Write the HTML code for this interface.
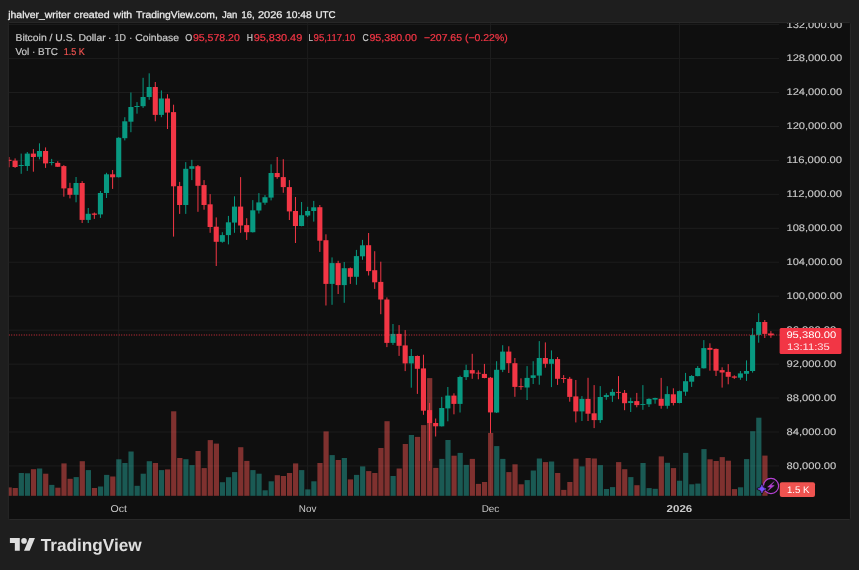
<!DOCTYPE html>
<html lang="en"><head><meta charset="utf-8"><title>BTCUSD chart</title>
<style>html,body{margin:0;padding:0;background:#1e1e1e;overflow:hidden}svg{display:block;will-change:transform}text{font-family:"Liberation Sans",Arial,sans-serif;text-rendering:geometricPrecision}</style>
</head><body>
<svg width="859" height="570" viewBox="0 0 859 570">
<rect width="859" height="570" fill="#1e1e1e"/>
<rect x="8.35" y="22.6" width="842.1" height="496.9" rx="1" fill="#0f0f0f" stroke="#292929" stroke-width="1"/>
<defs><clipPath id="cp"><rect x="8.8" y="23.1" width="841.1" height="495.9"/></clipPath></defs>
<g clip-path="url(#cp)">
<g stroke="#1d1d1d" stroke-width="1" shape-rendering="auto">
<line x1="8.8" y1="465.95" x2="779.0" y2="465.95"/>
<line x1="8.8" y1="432.00" x2="779.0" y2="432.00"/>
<line x1="8.8" y1="398.05" x2="779.0" y2="398.05"/>
<line x1="8.8" y1="364.10" x2="779.0" y2="364.10"/>
<line x1="8.8" y1="330.15" x2="779.0" y2="330.15"/>
<line x1="8.8" y1="296.20" x2="779.0" y2="296.20"/>
<line x1="8.8" y1="262.25" x2="779.0" y2="262.25"/>
<line x1="8.8" y1="228.30" x2="779.0" y2="228.30"/>
<line x1="8.8" y1="194.35" x2="779.0" y2="194.35"/>
<line x1="8.8" y1="160.40" x2="779.0" y2="160.40"/>
<line x1="8.8" y1="126.45" x2="779.0" y2="126.45"/>
<line x1="8.8" y1="92.50" x2="779.0" y2="92.50"/>
<line x1="8.8" y1="58.55" x2="779.0" y2="58.55"/>
<line x1="8.8" y1="24.60" x2="779.0" y2="24.60"/>
<line x1="118.71" y1="23.1" x2="118.71" y2="495.8"/>
<line x1="307.65" y1="23.1" x2="307.65" y2="495.8"/>
<line x1="490.50" y1="23.1" x2="490.50" y2="495.8"/>
<line x1="679.45" y1="23.1" x2="679.45" y2="495.8"/>
</g>
<g>
<rect x="6.55" y="487.4" width="5.2" height="8.4" fill="rgba(239,83,80,0.5)"/>
<rect x="12.64" y="488.0" width="5.2" height="7.8" fill="rgba(239,83,80,0.5)"/>
<rect x="18.74" y="473.0" width="5.2" height="22.8" fill="rgba(38,166,154,0.5)"/>
<rect x="24.83" y="473.3" width="5.2" height="22.5" fill="rgba(38,166,154,0.5)"/>
<rect x="30.93" y="469.2" width="5.2" height="26.6" fill="rgba(239,83,80,0.5)"/>
<rect x="37.02" y="468.5" width="5.2" height="27.3" fill="rgba(38,166,154,0.5)"/>
<rect x="43.12" y="473.7" width="5.2" height="22.1" fill="rgba(239,83,80,0.5)"/>
<rect x="49.21" y="484.9" width="5.2" height="10.9" fill="rgba(38,166,154,0.5)"/>
<rect x="55.31" y="487.7" width="5.2" height="8.1" fill="rgba(239,83,80,0.5)"/>
<rect x="61.40" y="463.4" width="5.2" height="32.4" fill="rgba(239,83,80,0.5)"/>
<rect x="67.50" y="478.8" width="5.2" height="17.0" fill="rgba(239,83,80,0.5)"/>
<rect x="73.60" y="477.1" width="5.2" height="18.7" fill="rgba(38,166,154,0.5)"/>
<rect x="79.69" y="461.2" width="5.2" height="34.6" fill="rgba(239,83,80,0.5)"/>
<rect x="85.79" y="470.1" width="5.2" height="25.7" fill="rgba(38,166,154,0.5)"/>
<rect x="91.88" y="488.0" width="5.2" height="7.8" fill="rgba(239,83,80,0.5)"/>
<rect x="97.98" y="486.5" width="5.2" height="9.3" fill="rgba(38,166,154,0.5)"/>
<rect x="104.07" y="474.9" width="5.2" height="20.9" fill="rgba(38,166,154,0.5)"/>
<rect x="110.17" y="476.5" width="5.2" height="19.3" fill="rgba(239,83,80,0.5)"/>
<rect x="116.26" y="459.3" width="5.2" height="36.5" fill="rgba(38,166,154,0.5)"/>
<rect x="122.36" y="463.0" width="5.2" height="32.8" fill="rgba(38,166,154,0.5)"/>
<rect x="128.45" y="451.5" width="5.2" height="44.3" fill="rgba(38,166,154,0.5)"/>
<rect x="134.55" y="485.8" width="5.2" height="10.0" fill="rgba(38,166,154,0.5)"/>
<rect x="140.64" y="473.7" width="5.2" height="22.1" fill="rgba(38,166,154,0.5)"/>
<rect x="146.74" y="461.2" width="5.2" height="34.6" fill="rgba(38,166,154,0.5)"/>
<rect x="152.83" y="463.0" width="5.2" height="32.8" fill="rgba(239,83,80,0.5)"/>
<rect x="158.93" y="470.1" width="5.2" height="25.7" fill="rgba(38,166,154,0.5)"/>
<rect x="165.02" y="469.4" width="5.2" height="26.4" fill="rgba(239,83,80,0.5)"/>
<rect x="171.12" y="411.3" width="5.2" height="84.5" fill="rgba(239,83,80,0.5)"/>
<rect x="177.21" y="458.0" width="5.2" height="37.8" fill="rgba(239,83,80,0.5)"/>
<rect x="183.31" y="459.2" width="5.2" height="36.6" fill="rgba(38,166,154,0.5)"/>
<rect x="189.40" y="465.1" width="5.2" height="30.7" fill="rgba(38,166,154,0.5)"/>
<rect x="195.50" y="451.0" width="5.2" height="44.8" fill="rgba(239,83,80,0.5)"/>
<rect x="201.59" y="468.1" width="5.2" height="27.7" fill="rgba(239,83,80,0.5)"/>
<rect x="207.69" y="440.1" width="5.2" height="55.7" fill="rgba(239,83,80,0.5)"/>
<rect x="213.78" y="443.6" width="5.2" height="52.2" fill="rgba(239,83,80,0.5)"/>
<rect x="219.88" y="482.2" width="5.2" height="13.6" fill="rgba(38,166,154,0.5)"/>
<rect x="225.97" y="477.2" width="5.2" height="18.6" fill="rgba(38,166,154,0.5)"/>
<rect x="232.06" y="472.1" width="5.2" height="23.7" fill="rgba(38,166,154,0.5)"/>
<rect x="238.16" y="447.2" width="5.2" height="48.6" fill="rgba(239,83,80,0.5)"/>
<rect x="244.25" y="460.9" width="5.2" height="34.9" fill="rgba(239,83,80,0.5)"/>
<rect x="250.35" y="470.1" width="5.2" height="25.7" fill="rgba(38,166,154,0.5)"/>
<rect x="256.44" y="473.7" width="5.2" height="22.1" fill="rgba(38,166,154,0.5)"/>
<rect x="262.54" y="490.3" width="5.2" height="5.5" fill="rgba(38,166,154,0.5)"/>
<rect x="268.63" y="481.3" width="5.2" height="14.5" fill="rgba(38,166,154,0.5)"/>
<rect x="274.73" y="475.2" width="5.2" height="20.6" fill="rgba(239,83,80,0.5)"/>
<rect x="280.82" y="476.0" width="5.2" height="19.8" fill="rgba(239,83,80,0.5)"/>
<rect x="286.92" y="473.0" width="5.2" height="22.8" fill="rgba(239,83,80,0.5)"/>
<rect x="293.01" y="463.4" width="5.2" height="32.4" fill="rgba(239,83,80,0.5)"/>
<rect x="299.11" y="470.1" width="5.2" height="25.7" fill="rgba(38,166,154,0.5)"/>
<rect x="305.20" y="489.4" width="5.2" height="6.4" fill="rgba(38,166,154,0.5)"/>
<rect x="311.30" y="481.3" width="5.2" height="14.5" fill="rgba(38,166,154,0.5)"/>
<rect x="317.39" y="463.0" width="5.2" height="32.8" fill="rgba(239,83,80,0.5)"/>
<rect x="323.49" y="431.4" width="5.2" height="64.4" fill="rgba(239,83,80,0.5)"/>
<rect x="329.58" y="455.1" width="5.2" height="40.7" fill="rgba(38,166,154,0.5)"/>
<rect x="335.68" y="460.0" width="5.2" height="35.8" fill="rgba(239,83,80,0.5)"/>
<rect x="341.77" y="458.0" width="5.2" height="37.8" fill="rgba(38,166,154,0.5)"/>
<rect x="347.87" y="479.4" width="5.2" height="16.4" fill="rgba(239,83,80,0.5)"/>
<rect x="353.96" y="474.9" width="5.2" height="20.9" fill="rgba(38,166,154,0.5)"/>
<rect x="360.06" y="466.4" width="5.2" height="29.4" fill="rgba(38,166,154,0.5)"/>
<rect x="366.15" y="471.1" width="5.2" height="24.7" fill="rgba(239,83,80,0.5)"/>
<rect x="372.25" y="473.0" width="5.2" height="22.8" fill="rgba(239,83,80,0.5)"/>
<rect x="378.34" y="448.0" width="5.2" height="47.8" fill="rgba(239,83,80,0.5)"/>
<rect x="384.44" y="421.2" width="5.2" height="74.6" fill="rgba(239,83,80,0.5)"/>
<rect x="390.53" y="476.0" width="5.2" height="19.8" fill="rgba(38,166,154,0.5)"/>
<rect x="396.63" y="468.5" width="5.2" height="27.3" fill="rgba(239,83,80,0.5)"/>
<rect x="402.72" y="444.0" width="5.2" height="51.8" fill="rgba(239,83,80,0.5)"/>
<rect x="408.82" y="435.0" width="5.2" height="60.8" fill="rgba(38,166,154,0.5)"/>
<rect x="414.91" y="436.9" width="5.2" height="58.9" fill="rgba(239,83,80,0.5)"/>
<rect x="421.01" y="425.1" width="5.2" height="70.7" fill="rgba(239,83,80,0.5)"/>
<rect x="427.10" y="378.1" width="5.2" height="117.7" fill="rgba(239,83,80,0.5)"/>
<rect x="433.20" y="467.9" width="5.2" height="27.9" fill="rgba(239,83,80,0.5)"/>
<rect x="439.29" y="458.9" width="5.2" height="36.9" fill="rgba(38,166,154,0.5)"/>
<rect x="445.39" y="440.0" width="5.2" height="55.8" fill="rgba(38,166,154,0.5)"/>
<rect x="451.48" y="455.7" width="5.2" height="40.1" fill="rgba(239,83,80,0.5)"/>
<rect x="457.58" y="452.9" width="5.2" height="42.9" fill="rgba(38,166,154,0.5)"/>
<rect x="463.67" y="464.9" width="5.2" height="30.9" fill="rgba(38,166,154,0.5)"/>
<rect x="469.77" y="458.9" width="5.2" height="36.9" fill="rgba(239,83,80,0.5)"/>
<rect x="475.86" y="483.9" width="5.2" height="11.9" fill="rgba(239,83,80,0.5)"/>
<rect x="481.96" y="482.0" width="5.2" height="13.8" fill="rgba(239,83,80,0.5)"/>
<rect x="488.05" y="432.9" width="5.2" height="62.9" fill="rgba(239,83,80,0.5)"/>
<rect x="494.15" y="446.1" width="5.2" height="49.7" fill="rgba(38,166,154,0.5)"/>
<rect x="500.24" y="458.9" width="5.2" height="36.9" fill="rgba(38,166,154,0.5)"/>
<rect x="506.34" y="472.1" width="5.2" height="23.7" fill="rgba(239,83,80,0.5)"/>
<rect x="512.43" y="464.3" width="5.2" height="31.5" fill="rgba(239,83,80,0.5)"/>
<rect x="518.53" y="484.3" width="5.2" height="11.5" fill="rgba(239,83,80,0.5)"/>
<rect x="524.62" y="480.1" width="5.2" height="15.7" fill="rgba(38,166,154,0.5)"/>
<rect x="530.72" y="470.5" width="5.2" height="25.3" fill="rgba(38,166,154,0.5)"/>
<rect x="536.81" y="458.5" width="5.2" height="37.3" fill="rgba(38,166,154,0.5)"/>
<rect x="542.91" y="462.1" width="5.2" height="33.7" fill="rgba(239,83,80,0.5)"/>
<rect x="549.00" y="461.5" width="5.2" height="34.3" fill="rgba(38,166,154,0.5)"/>
<rect x="555.10" y="473.0" width="5.2" height="22.8" fill="rgba(239,83,80,0.5)"/>
<rect x="561.19" y="489.9" width="5.2" height="5.9" fill="rgba(239,83,80,0.5)"/>
<rect x="567.29" y="482.0" width="5.2" height="13.8" fill="rgba(239,83,80,0.5)"/>
<rect x="573.38" y="458.7" width="5.2" height="37.1" fill="rgba(239,83,80,0.5)"/>
<rect x="579.48" y="466.4" width="5.2" height="29.4" fill="rgba(38,166,154,0.5)"/>
<rect x="585.57" y="458.0" width="5.2" height="37.8" fill="rgba(239,83,80,0.5)"/>
<rect x="591.67" y="458.5" width="5.2" height="37.3" fill="rgba(239,83,80,0.5)"/>
<rect x="597.76" y="465.1" width="5.2" height="30.7" fill="rgba(38,166,154,0.5)"/>
<rect x="603.86" y="489.0" width="5.2" height="6.8" fill="rgba(38,166,154,0.5)"/>
<rect x="609.95" y="487.1" width="5.2" height="8.7" fill="rgba(38,166,154,0.5)"/>
<rect x="616.05" y="462.1" width="5.2" height="33.7" fill="rgba(239,83,80,0.5)"/>
<rect x="622.14" y="469.2" width="5.2" height="26.6" fill="rgba(239,83,80,0.5)"/>
<rect x="628.24" y="477.1" width="5.2" height="18.7" fill="rgba(38,166,154,0.5)"/>
<rect x="634.33" y="485.2" width="5.2" height="10.6" fill="rgba(239,83,80,0.5)"/>
<rect x="640.43" y="463.0" width="5.2" height="32.8" fill="rgba(38,166,154,0.5)"/>
<rect x="646.52" y="488.1" width="5.2" height="7.7" fill="rgba(38,166,154,0.5)"/>
<rect x="652.62" y="488.8" width="5.2" height="7.0" fill="rgba(38,166,154,0.5)"/>
<rect x="658.71" y="456.4" width="5.2" height="39.4" fill="rgba(239,83,80,0.5)"/>
<rect x="664.81" y="462.8" width="5.2" height="33.0" fill="rgba(38,166,154,0.5)"/>
<rect x="670.90" y="468.1" width="5.2" height="27.7" fill="rgba(239,83,80,0.5)"/>
<rect x="677.00" y="480.7" width="5.2" height="15.1" fill="rgba(38,166,154,0.5)"/>
<rect x="683.09" y="452.9" width="5.2" height="42.9" fill="rgba(38,166,154,0.5)"/>
<rect x="689.19" y="484.3" width="5.2" height="11.5" fill="rgba(38,166,154,0.5)"/>
<rect x="695.28" y="483.6" width="5.2" height="12.2" fill="rgba(38,166,154,0.5)"/>
<rect x="701.38" y="449.1" width="5.2" height="46.7" fill="rgba(38,166,154,0.5)"/>
<rect x="707.47" y="459.3" width="5.2" height="36.5" fill="rgba(239,83,80,0.5)"/>
<rect x="713.57" y="461.0" width="5.2" height="34.8" fill="rgba(239,83,80,0.5)"/>
<rect x="719.66" y="457.1" width="5.2" height="38.7" fill="rgba(239,83,80,0.5)"/>
<rect x="725.76" y="460.7" width="5.2" height="35.1" fill="rgba(239,83,80,0.5)"/>
<rect x="731.85" y="489.1" width="5.2" height="6.7" fill="rgba(239,83,80,0.5)"/>
<rect x="737.95" y="487.3" width="5.2" height="8.5" fill="rgba(38,166,154,0.5)"/>
<rect x="744.04" y="459.1" width="5.2" height="36.7" fill="rgba(38,166,154,0.5)"/>
<rect x="750.14" y="431.2" width="5.2" height="64.6" fill="rgba(38,166,154,0.5)"/>
<rect x="756.23" y="417.7" width="5.2" height="78.1" fill="rgba(38,166,154,0.5)"/>
<rect x="762.33" y="455.6" width="5.2" height="40.2" fill="rgba(239,83,80,0.5)"/>
</g>
<g>
<rect x="8.50" y="157.0" width="1" height="10.3" fill="#f23645"/>
<rect x="6.45" y="159.8" width="5.1" height="1.1" fill="#f23645"/>
<rect x="14.59" y="158.4" width="1" height="9.5" fill="#f23645"/>
<rect x="12.54" y="160.6" width="5.1" height="6.4" fill="#f23645"/>
<rect x="20.69" y="153.6" width="1" height="20.2" fill="#089981"/>
<rect x="18.64" y="165.0" width="5.1" height="1.0" fill="#089981"/>
<rect x="26.79" y="152.0" width="1" height="18.9" fill="#089981"/>
<rect x="24.73" y="153.6" width="5.1" height="12.4" fill="#089981"/>
<rect x="32.88" y="149.1" width="1" height="22.6" fill="#f23645"/>
<rect x="30.83" y="153.6" width="5.1" height="3.4" fill="#f23645"/>
<rect x="38.97" y="143.3" width="1" height="16.0" fill="#089981"/>
<rect x="36.92" y="151.0" width="5.1" height="5.8" fill="#089981"/>
<rect x="45.07" y="147.4" width="1" height="20.5" fill="#f23645"/>
<rect x="43.02" y="151.0" width="5.1" height="12.4" fill="#f23645"/>
<rect x="51.16" y="158.9" width="1" height="6.4" fill="#089981"/>
<rect x="49.12" y="162.1" width="5.1" height="0.9" fill="#089981"/>
<rect x="57.26" y="161.2" width="1" height="5.8" fill="#f23645"/>
<rect x="55.21" y="162.9" width="5.1" height="3.9" fill="#f23645"/>
<rect x="63.35" y="165.1" width="1" height="31.6" fill="#f23645"/>
<rect x="61.30" y="166.1" width="5.1" height="22.3" fill="#f23645"/>
<rect x="69.45" y="182.8" width="1" height="15.6" fill="#f23645"/>
<rect x="67.40" y="188.2" width="5.1" height="6.6" fill="#f23645"/>
<rect x="75.55" y="177.0" width="1" height="25.3" fill="#089981"/>
<rect x="73.50" y="183.0" width="5.1" height="11.8" fill="#089981"/>
<rect x="81.64" y="181.1" width="1" height="41.9" fill="#f23645"/>
<rect x="79.59" y="183.0" width="5.1" height="36.9" fill="#f23645"/>
<rect x="87.73" y="208.0" width="1" height="15.0" fill="#089981"/>
<rect x="85.69" y="213.8" width="5.1" height="6.1" fill="#089981"/>
<rect x="93.83" y="212.5" width="1" height="6.4" fill="#f23645"/>
<rect x="91.78" y="213.5" width="5.1" height="1.3" fill="#f23645"/>
<rect x="99.92" y="191.0" width="1" height="26.9" fill="#089981"/>
<rect x="97.88" y="193.0" width="5.1" height="21.4" fill="#089981"/>
<rect x="106.02" y="172.8" width="1" height="25.2" fill="#089981"/>
<rect x="103.97" y="174.3" width="5.1" height="18.7" fill="#089981"/>
<rect x="112.11" y="170.0" width="1" height="18.9" fill="#f23645"/>
<rect x="110.06" y="174.3" width="5.1" height="3.0" fill="#f23645"/>
<rect x="118.21" y="137.1" width="1" height="40.4" fill="#089981"/>
<rect x="116.16" y="137.8" width="5.1" height="39.4" fill="#089981"/>
<rect x="124.30" y="117.2" width="1" height="23.2" fill="#089981"/>
<rect x="122.25" y="121.3" width="5.1" height="16.9" fill="#089981"/>
<rect x="130.40" y="92.5" width="1" height="39.7" fill="#089981"/>
<rect x="128.35" y="107.0" width="5.1" height="14.7" fill="#089981"/>
<rect x="136.50" y="102.1" width="1" height="11.6" fill="#089981"/>
<rect x="134.44" y="106.0" width="5.1" height="1.0" fill="#089981"/>
<rect x="142.59" y="77.8" width="1" height="30.1" fill="#089981"/>
<rect x="140.54" y="97.0" width="5.1" height="9.2" fill="#089981"/>
<rect x="148.69" y="73.3" width="1" height="26.5" fill="#089981"/>
<rect x="146.63" y="87.0" width="5.1" height="10.0" fill="#089981"/>
<rect x="154.78" y="82.0" width="1" height="39.3" fill="#f23645"/>
<rect x="152.73" y="87.0" width="5.1" height="27.9" fill="#f23645"/>
<rect x="160.88" y="90.4" width="1" height="26.8" fill="#089981"/>
<rect x="158.82" y="98.5" width="5.1" height="16.4" fill="#089981"/>
<rect x="166.97" y="94.2" width="1" height="34.8" fill="#f23645"/>
<rect x="164.92" y="98.5" width="5.1" height="14.1" fill="#f23645"/>
<rect x="173.06" y="104.7" width="1" height="131.9" fill="#f23645"/>
<rect x="171.01" y="112.1" width="5.1" height="74.2" fill="#f23645"/>
<rect x="179.16" y="181.9" width="1" height="32.0" fill="#f23645"/>
<rect x="177.11" y="186.1" width="5.1" height="18.9" fill="#f23645"/>
<rect x="185.25" y="162.1" width="1" height="51.8" fill="#089981"/>
<rect x="183.20" y="168.8" width="5.1" height="36.2" fill="#089981"/>
<rect x="191.35" y="159.8" width="1" height="20.3" fill="#089981"/>
<rect x="189.30" y="166.2" width="5.1" height="2.6" fill="#089981"/>
<rect x="197.44" y="165.0" width="1" height="46.8" fill="#f23645"/>
<rect x="195.39" y="166.2" width="5.1" height="19.6" fill="#f23645"/>
<rect x="203.54" y="180.1" width="1" height="29.6" fill="#f23645"/>
<rect x="201.49" y="185.1" width="5.1" height="19.9" fill="#f23645"/>
<rect x="209.63" y="194.1" width="1" height="38.7" fill="#f23645"/>
<rect x="207.58" y="204.3" width="5.1" height="22.7" fill="#f23645"/>
<rect x="215.73" y="217.4" width="1" height="48.6" fill="#f23645"/>
<rect x="213.68" y="226.7" width="5.1" height="15.1" fill="#f23645"/>
<rect x="221.82" y="232.2" width="1" height="10.5" fill="#089981"/>
<rect x="219.77" y="235.1" width="5.1" height="6.7" fill="#089981"/>
<rect x="227.92" y="215.9" width="1" height="28.5" fill="#089981"/>
<rect x="225.87" y="222.3" width="5.1" height="12.8" fill="#089981"/>
<rect x="234.01" y="196.3" width="1" height="36.5" fill="#089981"/>
<rect x="231.96" y="206.6" width="5.1" height="16.0" fill="#089981"/>
<rect x="240.11" y="177.1" width="1" height="55.7" fill="#f23645"/>
<rect x="238.06" y="206.6" width="5.1" height="18.9" fill="#f23645"/>
<rect x="246.20" y="218.2" width="1" height="21.7" fill="#f23645"/>
<rect x="244.15" y="225.1" width="5.1" height="7.1" fill="#f23645"/>
<rect x="252.30" y="200.1" width="1" height="32.4" fill="#089981"/>
<rect x="250.25" y="210.3" width="5.1" height="21.9" fill="#089981"/>
<rect x="258.39" y="193.1" width="1" height="20.4" fill="#089981"/>
<rect x="256.34" y="202.4" width="5.1" height="8.1" fill="#089981"/>
<rect x="264.49" y="195.1" width="1" height="9.7" fill="#089981"/>
<rect x="262.44" y="197.2" width="5.1" height="5.5" fill="#089981"/>
<rect x="270.58" y="164.3" width="1" height="36.1" fill="#089981"/>
<rect x="268.53" y="173.0" width="5.1" height="24.6" fill="#089981"/>
<rect x="276.68" y="157.0" width="1" height="21.8" fill="#f23645"/>
<rect x="274.63" y="173.0" width="5.1" height="4.1" fill="#f23645"/>
<rect x="282.77" y="159.2" width="1" height="33.6" fill="#f23645"/>
<rect x="280.72" y="177.1" width="5.1" height="10.0" fill="#f23645"/>
<rect x="288.87" y="180.1" width="1" height="39.9" fill="#f23645"/>
<rect x="286.82" y="187.1" width="5.1" height="24.3" fill="#f23645"/>
<rect x="294.96" y="197.0" width="1" height="46.0" fill="#f23645"/>
<rect x="292.91" y="211.0" width="5.1" height="15.0" fill="#f23645"/>
<rect x="301.06" y="202.0" width="1" height="24.3" fill="#089981"/>
<rect x="299.01" y="215.2" width="5.1" height="10.8" fill="#089981"/>
<rect x="307.15" y="206.8" width="1" height="10.2" fill="#089981"/>
<rect x="305.10" y="211.0" width="5.1" height="4.5" fill="#089981"/>
<rect x="313.25" y="200.9" width="1" height="20.7" fill="#089981"/>
<rect x="311.20" y="207.3" width="5.1" height="3.7" fill="#089981"/>
<rect x="319.34" y="205.0" width="1" height="46.9" fill="#f23645"/>
<rect x="317.29" y="207.2" width="5.1" height="33.5" fill="#f23645"/>
<rect x="325.44" y="234.3" width="1" height="71.2" fill="#f23645"/>
<rect x="323.39" y="240.2" width="5.1" height="43.7" fill="#f23645"/>
<rect x="331.53" y="257.4" width="1" height="47.4" fill="#089981"/>
<rect x="329.48" y="263.1" width="5.1" height="20.8" fill="#089981"/>
<rect x="337.63" y="260.8" width="1" height="33.2" fill="#f23645"/>
<rect x="335.58" y="263.1" width="5.1" height="22.0" fill="#f23645"/>
<rect x="343.72" y="262.0" width="1" height="40.8" fill="#089981"/>
<rect x="341.67" y="268.2" width="5.1" height="16.9" fill="#089981"/>
<rect x="349.82" y="267.5" width="1" height="16.4" fill="#f23645"/>
<rect x="347.77" y="268.2" width="5.1" height="8.6" fill="#f23645"/>
<rect x="355.91" y="249.9" width="1" height="34.9" fill="#089981"/>
<rect x="353.86" y="256.1" width="5.1" height="20.7" fill="#089981"/>
<rect x="362.01" y="239.9" width="1" height="19.9" fill="#089981"/>
<rect x="359.96" y="245.3" width="5.1" height="11.0" fill="#089981"/>
<rect x="368.10" y="233.0" width="1" height="42.5" fill="#f23645"/>
<rect x="366.05" y="245.2" width="5.1" height="25.9" fill="#f23645"/>
<rect x="374.20" y="251.2" width="1" height="37.7" fill="#f23645"/>
<rect x="372.15" y="270.2" width="5.1" height="12.1" fill="#f23645"/>
<rect x="380.29" y="261.7" width="1" height="52.5" fill="#f23645"/>
<rect x="378.24" y="281.9" width="5.1" height="17.6" fill="#f23645"/>
<rect x="386.39" y="297.4" width="1" height="49.7" fill="#f23645"/>
<rect x="384.34" y="299.5" width="5.1" height="43.4" fill="#f23645"/>
<rect x="392.48" y="324.0" width="1" height="20.9" fill="#089981"/>
<rect x="390.43" y="333.9" width="5.1" height="9.0" fill="#089981"/>
<rect x="398.58" y="325.1" width="1" height="30.8" fill="#f23645"/>
<rect x="396.53" y="333.9" width="5.1" height="11.9" fill="#f23645"/>
<rect x="404.68" y="330.1" width="1" height="41.0" fill="#f23645"/>
<rect x="402.62" y="345.4" width="5.1" height="18.0" fill="#f23645"/>
<rect x="410.77" y="349.0" width="1" height="38.7" fill="#089981"/>
<rect x="408.72" y="356.0" width="5.1" height="7.4" fill="#089981"/>
<rect x="416.87" y="355.5" width="1" height="38.4" fill="#f23645"/>
<rect x="414.81" y="356.0" width="5.1" height="12.8" fill="#f23645"/>
<rect x="422.96" y="354.7" width="1" height="60.1" fill="#f23645"/>
<rect x="420.91" y="368.4" width="5.1" height="42.3" fill="#f23645"/>
<rect x="429.06" y="403.0" width="1" height="57.9" fill="#f23645"/>
<rect x="427.00" y="410.1" width="5.1" height="12.9" fill="#f23645"/>
<rect x="435.15" y="418.5" width="1" height="18.0" fill="#f23645"/>
<rect x="433.10" y="423.0" width="5.1" height="3.3" fill="#f23645"/>
<rect x="441.25" y="396.9" width="1" height="29.6" fill="#089981"/>
<rect x="439.19" y="408.0" width="5.1" height="18.3" fill="#089981"/>
<rect x="447.34" y="387.0" width="1" height="34.3" fill="#089981"/>
<rect x="445.29" y="395.6" width="5.1" height="12.8" fill="#089981"/>
<rect x="453.44" y="393.3" width="1" height="21.0" fill="#f23645"/>
<rect x="451.38" y="395.6" width="5.1" height="8.3" fill="#f23645"/>
<rect x="459.53" y="375.7" width="1" height="36.8" fill="#089981"/>
<rect x="457.48" y="377.0" width="5.1" height="26.9" fill="#089981"/>
<rect x="465.62" y="364.7" width="1" height="15.3" fill="#089981"/>
<rect x="463.57" y="370.1" width="5.1" height="7.0" fill="#089981"/>
<rect x="471.72" y="353.8" width="1" height="25.0" fill="#f23645"/>
<rect x="469.67" y="370.1" width="5.1" height="3.4" fill="#f23645"/>
<rect x="477.81" y="370.3" width="1" height="9.0" fill="#f23645"/>
<rect x="475.76" y="372.7" width="5.1" height="0.9" fill="#f23645"/>
<rect x="483.91" y="363.9" width="1" height="14.4" fill="#f23645"/>
<rect x="481.86" y="373.9" width="5.1" height="4.1" fill="#f23645"/>
<rect x="490.00" y="377.0" width="1" height="56.3" fill="#f23645"/>
<rect x="487.95" y="377.7" width="5.1" height="34.7" fill="#f23645"/>
<rect x="496.10" y="361.2" width="1" height="51.8" fill="#089981"/>
<rect x="494.05" y="369.8" width="5.1" height="42.7" fill="#089981"/>
<rect x="502.19" y="345.2" width="1" height="26.9" fill="#089981"/>
<rect x="500.14" y="351.6" width="5.1" height="18.2" fill="#089981"/>
<rect x="508.29" y="346.3" width="1" height="26.7" fill="#f23645"/>
<rect x="506.24" y="351.6" width="5.1" height="11.6" fill="#f23645"/>
<rect x="514.38" y="358.0" width="1" height="38.8" fill="#f23645"/>
<rect x="512.34" y="363.2" width="5.1" height="23.7" fill="#f23645"/>
<rect x="520.48" y="378.3" width="1" height="11.5" fill="#f23645"/>
<rect x="518.43" y="386.2" width="5.1" height="0.9" fill="#f23645"/>
<rect x="526.57" y="366.1" width="1" height="33.9" fill="#089981"/>
<rect x="524.52" y="377.9" width="5.1" height="9.6" fill="#089981"/>
<rect x="532.67" y="361.2" width="1" height="22.8" fill="#089981"/>
<rect x="530.62" y="375.3" width="5.1" height="2.6" fill="#089981"/>
<rect x="538.76" y="341.1" width="1" height="43.6" fill="#089981"/>
<rect x="536.72" y="358.0" width="5.1" height="17.6" fill="#089981"/>
<rect x="544.86" y="342.4" width="1" height="25.3" fill="#f23645"/>
<rect x="542.81" y="358.0" width="5.1" height="5.8" fill="#f23645"/>
<rect x="550.95" y="350.4" width="1" height="36.7" fill="#089981"/>
<rect x="548.90" y="359.1" width="5.1" height="4.7" fill="#089981"/>
<rect x="557.05" y="357.0" width="1" height="27.9" fill="#f23645"/>
<rect x="555.00" y="359.1" width="5.1" height="19.7" fill="#f23645"/>
<rect x="563.14" y="375.1" width="1" height="7.8" fill="#f23645"/>
<rect x="561.10" y="378.0" width="5.1" height="0.9" fill="#f23645"/>
<rect x="569.24" y="376.9" width="1" height="24.8" fill="#f23645"/>
<rect x="567.19" y="378.8" width="5.1" height="18.1" fill="#f23645"/>
<rect x="575.33" y="380.0" width="1" height="42.4" fill="#f23645"/>
<rect x="573.28" y="396.4" width="5.1" height="15.0" fill="#f23645"/>
<rect x="581.43" y="396.1" width="1" height="24.9" fill="#089981"/>
<rect x="579.38" y="398.9" width="5.1" height="12.5" fill="#089981"/>
<rect x="587.52" y="377.8" width="1" height="43.2" fill="#f23645"/>
<rect x="585.48" y="398.9" width="5.1" height="14.8" fill="#f23645"/>
<rect x="593.62" y="385.1" width="1" height="43.0" fill="#f23645"/>
<rect x="591.57" y="413.3" width="5.1" height="6.8" fill="#f23645"/>
<rect x="599.72" y="386.1" width="1" height="36.8" fill="#089981"/>
<rect x="597.67" y="397.0" width="5.1" height="23.1" fill="#089981"/>
<rect x="605.81" y="393.2" width="1" height="6.6" fill="#089981"/>
<rect x="603.76" y="395.1" width="5.1" height="1.9" fill="#089981"/>
<rect x="611.90" y="388.9" width="1" height="13.0" fill="#089981"/>
<rect x="609.86" y="391.9" width="5.1" height="3.8" fill="#089981"/>
<rect x="618.00" y="376.1" width="1" height="23.1" fill="#f23645"/>
<rect x="615.95" y="391.9" width="5.1" height="0.9" fill="#f23645"/>
<rect x="624.10" y="390.0" width="1" height="20.2" fill="#f23645"/>
<rect x="622.05" y="392.9" width="5.1" height="10.3" fill="#f23645"/>
<rect x="630.19" y="397.7" width="1" height="14.3" fill="#089981"/>
<rect x="628.14" y="401.1" width="5.1" height="1.9" fill="#089981"/>
<rect x="636.28" y="392.9" width="1" height="14.4" fill="#f23645"/>
<rect x="634.24" y="401.1" width="5.1" height="4.0" fill="#f23645"/>
<rect x="642.38" y="385.1" width="1" height="24.7" fill="#089981"/>
<rect x="640.33" y="404.1" width="5.1" height="0.9" fill="#089981"/>
<rect x="648.48" y="398.3" width="1" height="8.7" fill="#089981"/>
<rect x="646.43" y="398.9" width="5.1" height="5.4" fill="#089981"/>
<rect x="654.57" y="397.7" width="1" height="6.0" fill="#089981"/>
<rect x="652.52" y="398.0" width="5.1" height="1.6" fill="#089981"/>
<rect x="660.66" y="377.9" width="1" height="30.8" fill="#f23645"/>
<rect x="658.62" y="398.8" width="5.1" height="7.0" fill="#f23645"/>
<rect x="666.76" y="386.2" width="1" height="22.5" fill="#089981"/>
<rect x="664.71" y="394.1" width="5.1" height="11.7" fill="#089981"/>
<rect x="672.86" y="388.3" width="1" height="17.1" fill="#f23645"/>
<rect x="670.81" y="394.3" width="5.1" height="8.7" fill="#f23645"/>
<rect x="678.95" y="390.5" width="1" height="12.8" fill="#089981"/>
<rect x="676.90" y="391.1" width="5.1" height="11.9" fill="#089981"/>
<rect x="685.04" y="372.9" width="1" height="22.9" fill="#089981"/>
<rect x="683.00" y="381.2" width="5.1" height="10.5" fill="#089981"/>
<rect x="691.14" y="375.1" width="1" height="11.8" fill="#089981"/>
<rect x="689.09" y="376.0" width="5.1" height="5.7" fill="#089981"/>
<rect x="697.24" y="366.1" width="1" height="10.2" fill="#089981"/>
<rect x="695.19" y="368.0" width="5.1" height="8.1" fill="#089981"/>
<rect x="703.33" y="340.1" width="1" height="28.4" fill="#089981"/>
<rect x="701.28" y="348.1" width="5.1" height="20.2" fill="#089981"/>
<rect x="709.42" y="343.3" width="1" height="27.4" fill="#f23645"/>
<rect x="707.38" y="347.9" width="5.1" height="1.9" fill="#f23645"/>
<rect x="715.52" y="348.5" width="1" height="27.5" fill="#f23645"/>
<rect x="713.47" y="348.9" width="5.1" height="21.8" fill="#f23645"/>
<rect x="721.62" y="367.3" width="1" height="20.3" fill="#f23645"/>
<rect x="719.57" y="370.1" width="5.1" height="2.4" fill="#f23645"/>
<rect x="727.71" y="364.1" width="1" height="20.2" fill="#f23645"/>
<rect x="725.66" y="371.9" width="5.1" height="4.9" fill="#f23645"/>
<rect x="733.80" y="375.3" width="1" height="3.6" fill="#f23645"/>
<rect x="731.75" y="376.4" width="5.1" height="1.3" fill="#f23645"/>
<rect x="739.90" y="371.0" width="1" height="8.8" fill="#089981"/>
<rect x="737.85" y="373.4" width="5.1" height="4.3" fill="#089981"/>
<rect x="746.00" y="360.4" width="1" height="20.5" fill="#089981"/>
<rect x="743.95" y="371.0" width="5.1" height="2.8" fill="#089981"/>
<rect x="752.09" y="328.2" width="1" height="44.4" fill="#089981"/>
<rect x="750.04" y="335.1" width="5.1" height="35.9" fill="#089981"/>
<rect x="758.18" y="313.2" width="1" height="29.5" fill="#089981"/>
<rect x="756.13" y="322.0" width="5.1" height="12.9" fill="#089981"/>
<rect x="764.28" y="320.0" width="1" height="18.0" fill="#f23645"/>
<rect x="762.23" y="322.0" width="5.1" height="11.9" fill="#f23645"/>
<rect x="770.38" y="331.1" width="1" height="6.7" fill="#f23645"/>
<rect x="767.98" y="333.5" width="5.8" height="1.8" fill="#f23645"/>
</g>
<line x1="8.8" y1="335" x2="779.6" y2="335" stroke="#f23645" stroke-width="1" stroke-dasharray="0.9 1.6"/>
<text x="786.5" y="468.70" font-size="9.6" fill="#c8c8c8" stroke="#c8c8c8" stroke-width="0.12" textLength="49.8" lengthAdjust="spacingAndGlyphs">80,000.00</text>
<text x="786.5" y="434.75" font-size="9.6" fill="#c8c8c8" stroke="#c8c8c8" stroke-width="0.12" textLength="49.8" lengthAdjust="spacingAndGlyphs">84,000.00</text>
<text x="786.5" y="400.80" font-size="9.6" fill="#c8c8c8" stroke="#c8c8c8" stroke-width="0.12" textLength="49.8" lengthAdjust="spacingAndGlyphs">88,000.00</text>
<text x="786.5" y="366.85" font-size="9.6" fill="#c8c8c8" stroke="#c8c8c8" stroke-width="0.12" textLength="49.8" lengthAdjust="spacingAndGlyphs">92,000.00</text>
<text x="786.5" y="332.90" font-size="9.6" fill="#c8c8c8" stroke="#c8c8c8" stroke-width="0.12" textLength="49.8" lengthAdjust="spacingAndGlyphs">96,000.00</text>
<text x="786.5" y="298.95" font-size="9.6" fill="#c8c8c8" stroke="#c8c8c8" stroke-width="0.12" textLength="55.6" lengthAdjust="spacingAndGlyphs">100,000.00</text>
<text x="786.5" y="265.00" font-size="9.6" fill="#c8c8c8" stroke="#c8c8c8" stroke-width="0.12" textLength="55.6" lengthAdjust="spacingAndGlyphs">104,000.00</text>
<text x="786.5" y="231.05" font-size="9.6" fill="#c8c8c8" stroke="#c8c8c8" stroke-width="0.12" textLength="55.6" lengthAdjust="spacingAndGlyphs">108,000.00</text>
<text x="786.5" y="197.10" font-size="9.6" fill="#c8c8c8" stroke="#c8c8c8" stroke-width="0.12" textLength="55.6" lengthAdjust="spacingAndGlyphs">112,000.00</text>
<text x="786.5" y="163.15" font-size="9.6" fill="#c8c8c8" stroke="#c8c8c8" stroke-width="0.12" textLength="55.6" lengthAdjust="spacingAndGlyphs">116,000.00</text>
<text x="786.5" y="129.20" font-size="9.6" fill="#c8c8c8" stroke="#c8c8c8" stroke-width="0.12" textLength="55.6" lengthAdjust="spacingAndGlyphs">120,000.00</text>
<text x="786.5" y="95.25" font-size="9.6" fill="#c8c8c8" stroke="#c8c8c8" stroke-width="0.12" textLength="55.6" lengthAdjust="spacingAndGlyphs">124,000.00</text>
<text x="786.5" y="61.30" font-size="9.6" fill="#c8c8c8" stroke="#c8c8c8" stroke-width="0.12" textLength="55.6" lengthAdjust="spacingAndGlyphs">128,000.00</text>
<text x="786.5" y="27.80" font-size="9.6" fill="#c8c8c8" stroke="#c8c8c8" stroke-width="0.12" textLength="55.6" lengthAdjust="spacingAndGlyphs">132,000.00</text>
<rect x="779.6" y="328" width="61.9" height="26" rx="1.5" fill="#f23645"/>
<text x="786.4" y="337.8" font-size="9.6" fill="#ffffff" textLength="49.8" lengthAdjust="spacingAndGlyphs">95,380.00</text>
<text x="786.9" y="349.5" font-size="9.6" fill="#ffffff" fill-opacity="0.85" textLength="42.9" lengthAdjust="spacingAndGlyphs">13:11:35</text>
<rect x="779.8" y="482.2" width="35.2" height="14.7" rx="2" fill="#ef5350"/>
<text x="786.9" y="493.1" font-size="9.6" fill="#ffffff" textLength="22.6" lengthAdjust="spacingAndGlyphs">1.5 K</text>
<g>
<circle cx="771" cy="486" r="7.6" fill="#0f0f0f" stroke="#b441d3" stroke-width="1.2"/>
<path d="M774.2 481.6 L767.6 487.0 L770.6 487.3 L767.6 490.9 L774.3 485.6 L771.2 485.2 Z" fill="#b441d3" stroke="#b441d3" stroke-width="0.4" stroke-linejoin="round"/>
<path d="M761.9 484.7 Q762.5 488.3 766.1 488.9 Q762.5 489.5 761.9 493.1 Q761.3 489.5 757.7 488.9 Q761.3 488.3 761.9 484.7 Z" fill="#0f0f0f" stroke="#0f0f0f" stroke-width="2.2" stroke-linejoin="round"/>
<path d="M761.9 484.7 Q762.5 488.3 766.1 488.9 Q762.5 489.5 761.9 493.1 Q761.3 489.5 757.7 488.9 Q761.3 488.3 761.9 484.7 Z" fill="#7a50ff" stroke="#7a50ff" stroke-width="0.5" stroke-linejoin="round"/>
</g>
<text x="118.71" y="512.3" font-size="10" fill="#c8c8c8" text-anchor="middle" textLength="16.5" lengthAdjust="spacingAndGlyphs">Oct</text>
<text x="307.65" y="512.3" font-size="10" fill="#c8c8c8" text-anchor="middle" textLength="17.6" lengthAdjust="spacingAndGlyphs">Nov</text>
<text x="490.50" y="512.3" font-size="10" fill="#c8c8c8" text-anchor="middle" textLength="17.6" lengthAdjust="spacingAndGlyphs">Dec</text>
<text x="679.45" y="512.3" font-size="10" fill="#c8c8c8" text-anchor="middle" textLength="25.7" lengthAdjust="spacingAndGlyphs" font-weight="bold">2026</text>
</g>
<text y="41.10" font-size="10" fill="#c8c8c8" stroke="#c8c8c8" stroke-width="0.22"><tspan x="15.45" textLength="90.25" lengthAdjust="spacingAndGlyphs">Bitcoin / U.S. Dollar</tspan> <tspan x="108.00">·</tspan> <tspan x="114.60" textLength="11.40" lengthAdjust="spacingAndGlyphs">1D</tspan> <tspan x="128.90">·</tspan> <tspan x="135.20" textLength="43.90" lengthAdjust="spacingAndGlyphs">Coinbase</tspan></text>
<text x="185.3" y="41.1" font-size="10" fill="#c8c8c8" stroke="#c8c8c8" stroke-width="0.22" textLength="7.0" lengthAdjust="spacingAndGlyphs">O</text>
<text x="192.9" y="41.1" font-size="10" fill="#f23645" stroke="#f23645" stroke-width="0.22" textLength="46.9" lengthAdjust="spacingAndGlyphs">95,578.20</text>
<text x="246.8" y="41.1" font-size="10" fill="#c8c8c8" stroke="#c8c8c8" stroke-width="0.22" textLength="6.2" lengthAdjust="spacingAndGlyphs">H</text>
<text x="253.7" y="41.1" font-size="10" fill="#f23645" stroke="#f23645" stroke-width="0.22" textLength="48.6" lengthAdjust="spacingAndGlyphs">95,830.49</text>
<text x="308.6" y="41.1" font-size="10" fill="#c8c8c8" stroke="#c8c8c8" stroke-width="0.22" textLength="4.4" lengthAdjust="spacingAndGlyphs">L</text>
<text x="313.6" y="41.1" font-size="10" fill="#f23645" stroke="#f23645" stroke-width="0.22" textLength="41.7" lengthAdjust="spacingAndGlyphs">95,117.10</text>
<text x="362.4" y="41.1" font-size="10" fill="#c8c8c8" stroke="#c8c8c8" stroke-width="0.22" textLength="6.2" lengthAdjust="spacingAndGlyphs">C</text>
<text x="369.4" y="41.1" font-size="10" fill="#f23645" stroke="#f23645" stroke-width="0.22" textLength="47.6" lengthAdjust="spacingAndGlyphs">95,380.00</text>
<text x="423.9" y="41.1" font-size="10" fill="#f23645" stroke="#f23645" stroke-width="0.22" textLength="83.8" lengthAdjust="spacingAndGlyphs">−207.65 (−0.22%)</text>
<text x="15.4" y="55" font-size="10" fill="#c8c8c8" stroke="#c8c8c8" stroke-width="0.2" textLength="42.5" lengthAdjust="spacingAndGlyphs">Vol · BTC</text>
<text x="63.8" y="55" font-size="10" fill="#ef5350" stroke="#ef5350" stroke-width="0.2" textLength="21" lengthAdjust="spacingAndGlyphs">1.5 K</text>
<text y="18.30" font-size="9.8" fill="#ececec" stroke="#ececec" stroke-width="0.25"><tspan x="8.20" textLength="62.20" lengthAdjust="spacingAndGlyphs">jhalver_writer</tspan> <tspan x="74.10" textLength="35.50" lengthAdjust="spacingAndGlyphs">created</tspan> <tspan x="113.60" textLength="18.60" lengthAdjust="spacingAndGlyphs">with</tspan> <tspan x="136.10" textLength="81.70" lengthAdjust="spacingAndGlyphs">TradingView.com,</tspan> <tspan x="221.90" textLength="15.40" lengthAdjust="spacingAndGlyphs">Jan</tspan> <tspan x="241.50" textLength="13.10" lengthAdjust="spacingAndGlyphs">16,</tspan> <tspan x="257.90" textLength="24.50" lengthAdjust="spacingAndGlyphs">2026</tspan> <tspan x="286.00" textLength="25.70" lengthAdjust="spacingAndGlyphs">10:48</tspan> <tspan x="315.40" textLength="20.10" lengthAdjust="spacingAndGlyphs">UTC</tspan></text>
<g transform="translate(9.9 535.28) scale(0.7056)" fill="#dedede"><path d="M14 22H7V11H0V4h14v18z"/><circle cx="20" cy="8" r="4"/><path d="M28 22h-8l7.5-18h8L28 22z"/></g>
<text x="40.7" y="550.8" font-size="17.4" font-weight="bold" fill="#dedede" textLength="101" lengthAdjust="spacingAndGlyphs">TradingView</text>
</svg></body></html>
